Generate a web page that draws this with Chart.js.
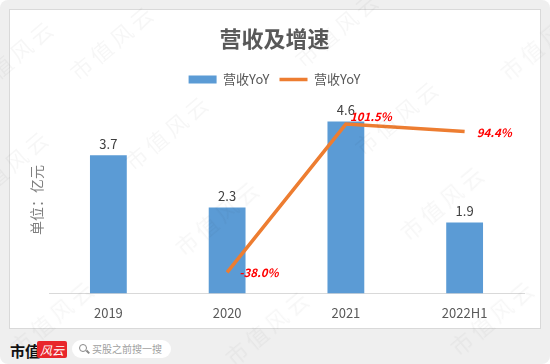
<!DOCTYPE html>
<html>
<head>
<meta charset="utf-8">
<script src="https://cdn.jsdelivr.net/npm/chart.js@4.4.0/dist/chart.umd.min.js"></script>
<style>
  html, body { margin: 0; padding: 0; }
  body { width: 550px; height: 364px; background: #fff; position: relative; overflow: hidden;
         font-family: "Noto Sans CJK SC", "Noto Sans", sans-serif; }
  .bg { position: absolute; left: 0; top: 0; width: 550px; height: 364px; background: #efefef; border-radius: 8px; }
  .card { position: absolute; left: 9px; top: 9px; width: 530px; height: 318px; background: #fff; border: 1px solid #d9d9d9; }
  .card canvas { display: block; }
  .wm { position: absolute; font-size: 22px; color: rgba(0,0,0,0.035); transform: rotate(-40deg); white-space: nowrap;
        letter-spacing: 4px; pointer-events: none; }
  .logo1 { position: absolute; left: 10px; top: 340px; font-size: 15px; font-weight: bold; color: #111; }
  .logo2 { position: absolute; left: 37px; top: 341px; width: 30px; height: 17px; background: #e8262b; color: #fff;
           font-size: 12px; font-style: italic; text-align: center; line-height: 17px; border-radius: 2px; }
  .search { position: absolute; left: 72px; top: 340px; width: 99px; height: 18px; background: #fff; border-radius: 9px; }
  .search .txt { position: absolute; left: 20px; top: 0; font-size: 10px; line-height: 18px; color: #a0a0a0; }
  .search .ico { position: absolute; left: 7px; top: 4px; width: 6px; height: 6px; border: 1.5px solid #888; border-radius: 50%; }
  .search .ico:after { content: ""; position: absolute; left: 6px; top: 6px; width: 4px; height: 1.5px; background: #888; transform: rotate(45deg); }
</style>
</head>
<body>
<div class="bg"></div>
<div class="card"><canvas id="revChart" width="530" height="318"></canvas></div>
<div class="logo1">市值</div>
<div class="logo2">风云</div>
<div class="search"><div class="ico"></div><div class="txt">买股之前搜一搜</div></div>
<div id="wms"></div>
<script>
const categories = ['2019', '2020', '2021', '2022H1'];
const revenue = [3.7, 2.3, 4.6, 1.9];        // 亿元
const revenueYoY = [null, -38.0, 101.5, 94.4]; // %
const chartTitle = '营收及增速';
const seriesNames = ['营收YoY', '营收YoY'];
const unitLabel = '单位：亿元';

// faint watermark text
const wmSpots = [[60, 25], [285, 12], [490, 25], [115, 115], [345, 100], [-45, 150], [165, 200], [390, 185],
                 [0, 300], [215, 310], [440, 300], [-40, 40]];
const wmBox = document.getElementById('wms');
wmSpots.forEach(p => {
  const d = document.createElement('div');
  d.className = 'wm';
  d.style.left = p[0] + 'px';
  d.style.top = p[1] + 'px';
  d.textContent = '市值风云';
  wmBox.appendChild(d);
});

const FONT = '"Noto Sans CJK SC", "Noto Sans", sans-serif';

// value labels above bars and beside line points
const valueLabels = {
  id: 'valueLabels',
  afterDatasetsDraw(chart) {
    const ctx = chart.ctx;
    ctx.save();
    const barMeta = chart.getDatasetMeta(0);
    ctx.font = '13px ' + FONT;
    ctx.fillStyle = '#404040';
    ctx.textAlign = 'center';
    ctx.textBaseline = 'bottom';
    barMeta.data.forEach((bar, i) => {
      ctx.fillText(revenue[i].toFixed(1), bar.x, bar.y - 5);
    });
    const lineMeta = chart.getDatasetMeta(1);
    const offs = [[0, 0], [12, 0], [4, -7], [12, 1]];
    ctx.font = 'italic bold 11.5px ' + FONT;
    ctx.fillStyle = '#ff0000';
    ctx.textAlign = 'left';
    ctx.textBaseline = 'middle';
    lineMeta.data.forEach((pt, i) => {
      if (revenueYoY[i] === null) return;
      ctx.fillText(revenueYoY[i].toFixed(1) + '%', pt.x + offs[i][0], pt.y + offs[i][1]);
    });
    ctx.restore();
  }
};

// extra room under the legend
const legendGap = {
  id: 'legendGap',
  beforeInit(chart) {
    const fit = chart.legend.fit;
    chart.legend.fit = function () {
      fit.bind(chart.legend)();
      this.height += 10.5;
    };
  }
};

new Chart(document.getElementById('revChart').getContext('2d'), {
  type: 'bar',
  data: {
    labels: categories,
    datasets: [{
      type: 'bar',
      label: seriesNames[0],
      data: revenue,
      backgroundColor: '#5B9BD5',
      borderWidth: 0,
      categoryPercentage: 1,
      barPercentage: 0.31,
      pointStyle: 'rect',
      yAxisID: 'y',
      order: 1
    }, {
      type: 'line',
      label: seriesNames[1],
      data: revenueYoY,
      borderColor: '#ED7D31',
      backgroundColor: '#ED7D31',
      borderWidth: 3.5,
      pointRadius: 0,
      pointStyle: 'line',
      tension: 0,
      spanGaps: false,
      yAxisID: 'y1',
      order: 0
    }]
  },
  options: {
    responsive: false,
    animation: false,
    events: [],
    layout: { padding: { left: 15, right: 16, top: 0, bottom: -4.0 } },
    plugins: {
      title: {
        display: true,
        text: chartTitle,
        color: '#595959',
        font: { family: FONT, size: 22, weight: 'bold' },
        padding: { top: 15.4, bottom: 11.2 }
      },
      legend: {
        display: true,
        labels: {
          usePointStyle: true,
          pointStyleWidth: 28,
          boxHeight: 8,
          color: '#595959',
          font: { family: FONT, size: 13 },
          padding: 10,
          sort: (a, b) => a.datasetIndex - b.datasetIndex
        }
      },
      tooltip: { enabled: false }
    },
    scales: {
      x: {
        grid: { display: false, drawTicks: false },
        border: { display: true, color: '#d9d9d9', width: 1 },
        ticks: { color: '#595959', font: { family: FONT, size: 13 }, padding: 11.4 }
      },
      y: {
        min: 0,
        max: 5,
        grid: { display: false, drawTicks: false },
        border: { display: false },
        ticks: { display: false },
        title: {
          display: true,
          text: unitLabel,
          color: '#7f7f7f',
          font: { family: FONT, size: 14 },
          padding: { top: 3.6, bottom: 3.6 }
        }
      },
      y1: {
        display: false,
        position: 'right',
        min: -58,
        max: 118
      }
    }
  },
  plugins: [valueLabels, legendGap]
});
</script>
</body>
</html>
